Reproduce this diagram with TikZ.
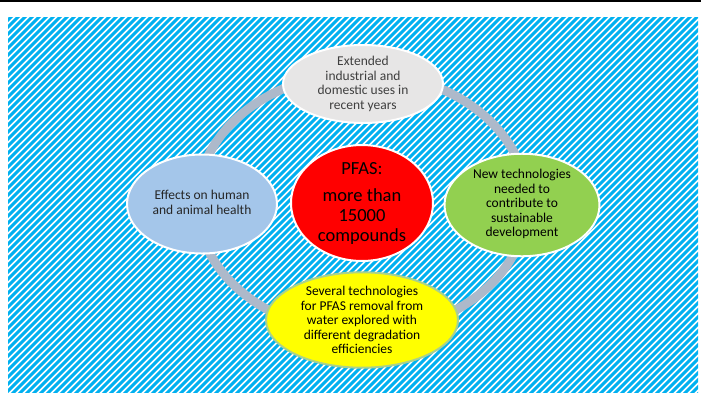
\documentclass[tikz,border=0pt]{standalone}
\usepackage{fontspec}
\setmainfont{Carlito}
\usetikzlibrary{shapes.geometric}
\definecolor{stripec}{HTML}{00B0F0}
\definecolor{ringc}{HTML}{ADB9CA}
\definecolor{topc}{HTML}{E7E6E6}
\definecolor{leftc}{HTML}{A4C6EA}
\definecolor{redc}{HTML}{FF0000}
\definecolor{greenc}{HTML}{92D050}
\definecolor{yellowc}{HTML}{FFFF00}
\definecolor{yellowedge}{HTML}{A9D18E}
\definecolor{txtgray}{HTML}{3F3F3F}
\newcommand{\liftbox}[2]{\raisebox{#1}{\begin{tabular}{@{}c@{}}#2\end{tabular}}}
\tikzset{
  bub/.style={ellipse, draw=white, line width=2pt, inner sep=0pt, align=center,
    font=\fontsize{13.5}{14.5}\selectfont},
  stripeline/.style={stripec, line width=3.1pt},
  ringline/.style={ringc, line width=9pt}
}
\begin{document}
\begin{tikzpicture}[x=1pt,y=-1pt]
\useasboundingbox (0,0) rectangle (701,392);
\fill[white] (0,0) rectangle (701,392);
\fill[black] (0,0) rectangle (701,2.2);
\begin{scope}
  \clip (8,17) rectangle (698,392);
  \foreach \i in {-400,-393,...,700}
    \draw[stripeline] (\i,400) -- (\i+400,0);
\end{scope}
\draw[ringline] (362,203) ellipse [x radius=165pt, y radius=130pt];
\node[bub, fill=topc, text=txtgray, minimum width=160pt, minimum height=78pt] (top) at (363,84)
  {Extended\\industrial and\\domestic uses in\\recent years};
\node[bub, fill=leftc, text=black!85, minimum width=150pt, minimum height=99pt] (left) at (202,204)
  {\liftbox{4pt}{Effects on human\\and animal health}};
\node[bub, fill=redc, text=black, minimum width=142pt, minimum height=110pt,
  font=\fontsize{18.5}{20}\selectfont] (center) at (362,203)
  {PFAS:\\[7pt]more than\\15000\\compounds};
\node[bub, fill=greenc, text=black, minimum width=155pt, minimum height=86pt] (right) at (522,205)
  {\liftbox{6pt}{New technologies\\needed to\\contribute to\\sustainable\\development}};
\node[bub, draw=yellowedge, fill=yellowc, text=black, minimum width=192pt, minimum height=94pt] (bottom) at (362,320)
  {Several technologies\\for PFAS removal from\\water explored with\\different degradation\\efficiencies};
\end{tikzpicture}
\end{document}
